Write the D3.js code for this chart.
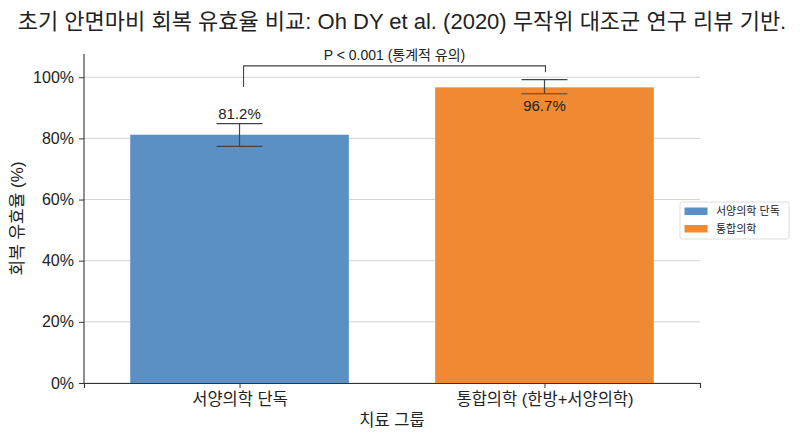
<!DOCTYPE html>
<html>
<head>
<meta charset="utf-8">
<script src="https://cdn.jsdelivr.net/npm/d3@7"></script>
<style>
  body { margin: 0; background: #fff; }
  text { font-family: "Liberation Sans", "Noto Sans CJK KR", sans-serif; fill: #222; }
</style>
</head>
<body>
<svg id="chart"></svg>
<script>
// data
const groups = ["서양의학 단독", "통합의학 (한방+서양의학)"];
const legendNames = ["서양의학 단독", "통합의학"];
const rates = [81.2, 96.7];
const errLow = [3.8, 2.1];
const errHigh = [3.6, 2.5];
const yTicks = [0, 20, 40, 60, 80, 100];
const colors = ["#5b90c5", "#ef8a33"];

const W = 800, H = 436;
const margin = {left: 84, right: 100, top: 54, bottom: 53};

const svg = d3.select("#chart").attr("width", W).attr("height", H);

// scales (x as numeric positions, like matplotlib)
const x = d3.scaleLinear().domain([-0.51, 1.51]).range([margin.left, W - margin.right]);
const y = d3.scaleLinear().domain([0, 107.6]).range([H - margin.bottom, margin.top]);
const barW = 0.717;

// gridlines
svg.append("g")
  .selectAll("line")
  .data(yTicks)
  .join("line")
  .attr("x1", x(-0.51)).attr("x2", x(1.51))
  .attr("y1", d => y(d)).attr("y2", d => y(d))
  .attr("stroke", "#c8c8c8").attr("stroke-width", 0.8);

// bars
svg.append("g")
  .selectAll("rect")
  .data(rates)
  .join("rect")
  .attr("x", (d, i) => x(i - barW / 2))
  .attr("width", x(barW) - x(0))
  .attr("y", d => y(d))
  .attr("height", d => y(0) - y(d))
  .attr("fill", (d, i) => colors[i]);

// error bars
const eb = svg.append("g").attr("stroke", "#444").attr("stroke-width", 1.2);
rates.forEach(function(d, i) {
  eb.append("line").attr("x1", x(i)).attr("x2", x(i))
    .attr("y1", y(d - errLow[i])).attr("y2", y(d + errHigh[i]));
  [d - errLow[i], d + errHigh[i]].forEach(function(v) {
    eb.append("line").attr("x1", x(i) - 23).attr("x2", x(i) + 23)
      .attr("y1", y(v)).attr("y2", y(v));
  });
});

// value labels
svg.append("text")
  .attr("x", x(0)).attr("y", y(rates[0] + errHigh[0]) - 5)
  .attr("text-anchor", "middle").style("font-size", "15px")
  .text(rates[0].toFixed(1) + "%");
svg.append("text")
  .attr("x", x(1)).attr("y", y(rates[1] - errLow[1]) + 17)
  .attr("text-anchor", "middle").style("font-size", "15px")
  .text(rates[1].toFixed(1) + "%");

// significance bracket
const bx0 = x(0) + 4, bx1 = x(1) + 1;
svg.append("path")
  .attr("d", `M${bx0},${y(96.8)} V${y(103.7)} H${bx1} V${y(101.6)}`)
  .attr("fill", "none").attr("stroke", "#444").attr("stroke-width", 1.1);
svg.append("text")
  .attr("x", (bx0 + bx1) / 2).attr("y", y(103.7) - 6)
  .attr("text-anchor", "middle").style("font-size", "14px")
  .text("P < 0.001 (통계적 유의)");

// axes
const yAxis = svg.append("g")
  .attr("transform", `translate(${margin.left},0)`)
  .call(d3.axisLeft(y).tickValues(yTicks).tickFormat(d => d + "%").tickSize(5).tickPadding(5));
yAxis.select(".domain").attr("d", `M0,${y(107.6)}V${y(0)}`);
yAxis.selectAll("text").style("font-size", "16px");

const xAxis = svg.append("g")
  .attr("transform", `translate(0,${y(0)})`)
  .call(d3.axisBottom(x).tickValues([0, 1]).tickFormat(i => groups[i]).tickSize(5).tickPadding(5));
xAxis.selectAll("text").style("font-size", "16.5px");
[yAxis, xAxis].forEach(function(a) {
  a.select(".domain").attr("stroke", "#333").attr("stroke-width", 1.1);
  a.selectAll(".tick line").attr("stroke", "#333");
  a.selectAll("text").attr("fill", "#222");
});

// axis titles
svg.append("text")
  .attr("transform", `translate(23,${(y(0) + y(107.6)) / 2}) rotate(-90)`)
  .attr("text-anchor", "middle").style("font-size", "17px")
  .text("회복 유효율 (%)");
svg.append("text")
  .attr("x", x(0.5)).attr("y", 426)
  .attr("text-anchor", "middle").style("font-size", "16.5px")
  .text("치료 그룹");

// title
svg.append("text")
  .attr("x", 402).attr("y", 29)
  .attr("text-anchor", "middle").style("font-size", "22px")
  .text("초기 안면마비 회복 유효율 비교: Oh DY et al. (2020) 무작위 대조군 연구 리뷰 기반.");

// legend
const lg = svg.append("g").attr("transform", "translate(680,202)");
lg.append("rect").attr("width", 109).attr("height", 37).attr("rx", 2)
  .attr("fill", "#fff").attr("stroke", "#ddd");
legendNames.forEach(function(n, i) {
  lg.append("rect").attr("x", 4.5).attr("y", 5.5 + i * 17.5)
    .attr("width", 23).attr("height", 7.5).attr("fill", colors[i]);
  lg.append("text").attr("x", 36).attr("y", 13 + i * 17.5)
    .style("font-size", "11px").text(n);
});
</script>
</body>
</html>
